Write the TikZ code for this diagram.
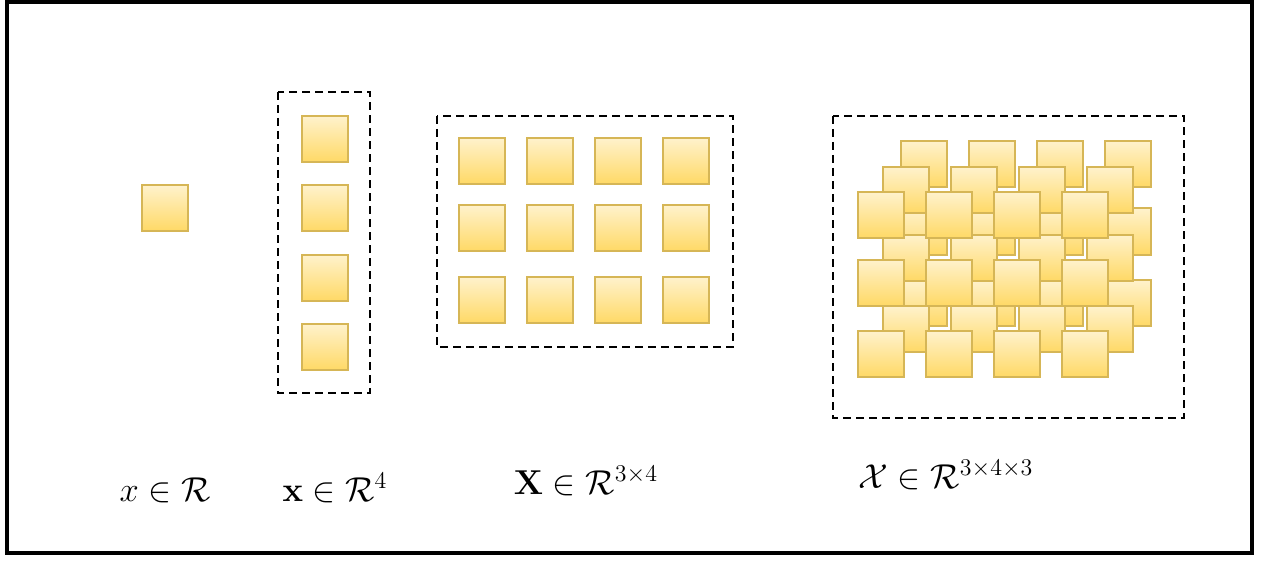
\documentclass[tikz,border=0pt]{standalone}
\usepackage{amsmath}
\usetikzlibrary{positioning}
\definecolor{celltop}{RGB}{255,242,204}
\definecolor{cellbot}{RGB}{255,217,102}
\definecolor{celledge}{RGB}{214,182,86}
\tikzset{
  cell/.style={draw=celledge,line width=1pt,top color=celltop,bottom color=cellbot,
    minimum size=23pt,inner sep=0pt},
  group/.style={draw=black,line width=1pt,dash pattern=on 4pt off 2.5pt},
  frame/.style={draw=black,line width=1.6pt},
  tag/.style={anchor=base,font=\fontsize{17}{20}\selectfont},
}

\begin{document}
\begin{tikzpicture}[x=0.5pt,y=-0.5pt]
    \useasboundingbox (0,0) rectangle (1272,561);
    \draw[frame] (7,2) rectangle (1252,553);
    % scalar
    \node[cell] (sca) at (165,208) {};
    % vector
    \draw[group] (278,92) rectangle (370,393);
    \foreach \i in {0,...,3}
      \node[cell] (vec-\i) at (324.5,139+69.3*\i) {};
    % matrix
    \draw[group] (437,116) rectangle (733,347);
    \foreach \r/\dy in {0/0,1/67,2/139}
      \foreach \c in {0,...,3}
        \node[cell] (mat-\r-\c) at (482+68*\c,161+\dy) {};
    % tensor, back slice first
    \draw[group] (833,116) rectangle (1184,418);
    \foreach \k/\ox/\oy in {2/901/141,1/883/167,0/858/192}
      \foreach \r/\dy in {0/0,1/67.5,2/139}
        \foreach \c in {0,...,3}
          \node[cell] (ten-\k-\r-\c) at (\ox+23+68*\c,\oy+23+\dy) {};
    % labels
    \node[tag] (lab-sca) at (165,501) {$x \in \mathcal{R}$};
    \node[tag] (lab-vec) at (335,501) {$\mathbf{x} \in \mathcal{R}^4$};
    \node[tag] (lab-mat) at (586,494) {$\mathbf{X} \in \mathcal{R}^{3\times 4}$};
    \node[tag] (lab-ten) at (946,488) {$\mathcal{X} \in \mathcal{R}^{3\times 4\times 3}$};
  \end{tikzpicture}
\end{document}
